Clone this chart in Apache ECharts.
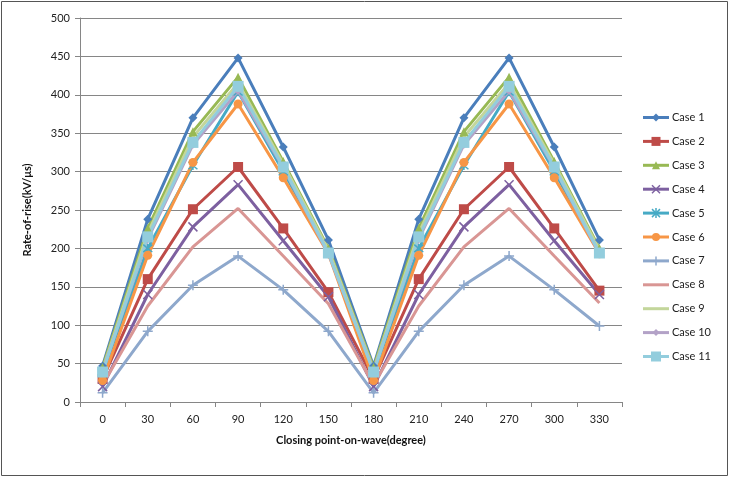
<!DOCTYPE html>
<html><head><meta charset="utf-8">
<script src="https://cdn.jsdelivr.net/npm/echarts@6/dist/echarts.min.js"></script>
<style>html,body{margin:0;padding:0;background:#fff}#c{width:730px;height:478px}</style>
</head><body><div id="c"></div>
<script>
const categories = ['0','30','60','90','120','150','180','210','240','270','300','330'];
const case1 = [47,238,370,448,332,211,47,238,370,448,332,211];
const case2 = [30,160,251,306,226,143,30,160,251,306,226,145];
const case3 = [45,226,352,423,313,200,45,226,352,423,313,200];
const case4 = [20,140,228,283,210,137,20,140,228,283,210,140];
const case5 = [38,200,308,404,300,195,38,200,308,404,300,195];
const case6 = [28,191,312,388,292,193,28,191,312,388,292,193];
const case7 = [12,92,152,190,146,92,12,92,152,190,146,99];
const case8 = [22,125,202,252,190,128,22,125,202,252,190,129];
const case9 = [42,220,345,415,310,198,42,220,345,415,310,198];
const case10 = [40,212,335,405,305,193,40,212,335,405,305,193];
const case11 = [39,215,338,411,306,194,39,215,338,411,306,194];
const names = ['Case 1','Case 2','Case 3','Case 4','Case 5','Case 6','Case 7','Case 8','Case 9','Case 10','Case 11'];
const values = [case1,case2,case3,case4,case5,case6,case7,case8,case9,case10,case11];

const colors = ['#4A7EBB','#BE4B48','#98B954','#7D60A0','#46AAC5','#F79646','#8EA8CC','#D99694','#C3D69B','#B3A2C7','#93CDDD'];
const X = 'path://M0,0L10,10M10,0L0,10';
const STAR = 'path://M0,0L10,10M10,0L0,10M5,-1L5,11';
const PLUS = 'path://M5,0L5,10M0,5L10,5';
const DASH = 'path://M0,5L10,5';
const symbols = ['diamond','rect','triangle',X,STAR,'circle',PLUS,DASH,'circle','diamond','rect'];
const kinds = ['diamond','rect','triangle','x','star','circle','plus','dash','none','diamond','rect'];
const sizes = [9,10,9,9,9,9,10,9,1,8,11];
const stroked = [false,false,false,true,true,false,true,true,false,false,false];

const font = 'Lato, sans-serif';

function legendMarker(kind, cx, cy, s, c){
  const h = s/2;
  const st = {stroke:c, lineWidth:1.5};
  switch(kind){
    case 'diamond': return [{type:'polygon',shape:{points:[[cx,cy-h],[cx+h,cy],[cx,cy+h],[cx-h,cy]]},style:{fill:c}}];
    case 'rect': return [{type:'rect',shape:{x:cx-h,y:cy-h,width:s,height:s},style:{fill:c}}];
    case 'triangle': return [{type:'polygon',shape:{points:[[cx,cy-h],[cx+h,cy+h],[cx-h,cy+h]]},style:{fill:c}}];
    case 'circle': return [{type:'circle',shape:{cx:cx,cy:cy,r:h},style:{fill:c}}];
    case 'x': return [{type:'line',shape:{x1:cx-h,y1:cy-h,x2:cx+h,y2:cy+h},style:st},{type:'line',shape:{x1:cx-h,y1:cy+h,x2:cx+h,y2:cy-h},style:st}];
    case 'star': return [{type:'line',shape:{x1:cx-h,y1:cy-h,x2:cx+h,y2:cy+h},style:st},{type:'line',shape:{x1:cx-h,y1:cy+h,x2:cx+h,y2:cy-h},style:st},{type:'line',shape:{x1:cx,y1:cy-h-1,x2:cx,y2:cy+h+1},style:st}];
    case 'plus': return [{type:'line',shape:{x1:cx,y1:cy-h,x2:cx,y2:cy+h},style:st}];
    default: return [];
  }
}
const legendItems = [];
names.forEach((n,i)=>{
  const y = 117.5 + i*23.9;
  legendItems.push({type:'line',shape:{x1:643,y1:y,x2:669,y2:y},style:{stroke:colors[i],lineWidth:3}});
  legendMarker(kinds[i],656,y,sizes[i]-1,colors[i]).forEach(m=>legendItems.push(m));
  legendItems.push({type:'text',x:672,y:y,style:{text:n,fontSize:11,fill:'#222',fontFamily:font,verticalAlign:'middle',align:'left'}});
});

const chart = echarts.init(document.getElementById('c'));
chart.setOption({
  animation:false,
  textStyle:{fontFamily:font},
  graphic:[{type:'rect',shape:{x:1.5,y:1.5,width:726,height:474},style:{fill:'none',stroke:'#555',lineWidth:1}}].concat(legendItems),
  grid:{left:80,right:108,top:18,bottom:76},
  xAxis:{type:'category',data:categories,boundaryGap:true,
    name:'Closing point-on-wave(degree)',nameLocation:'middle',nameGap:33,
    nameTextStyle:{fontWeight:'bold',fontSize:11,color:'#111'},
    axisLine:{lineStyle:{color:'#868686'}},
    axisTick:{show:true,length:5,interval:0,lineStyle:{color:'#868686'}},
    axisLabel:{fontSize:11,color:'#222',margin:12,interval:0}},
  yAxis:{type:'value',min:0,max:500,interval:50,
    name:'Rate-of-rise(kV/μs)',nameLocation:'middle',nameGap:47,nameRotate:90,
    nameTextStyle:{fontWeight:'bold',fontSize:11,color:'#111'},
    axisLine:{show:true,lineStyle:{color:'#868686'}},
    axisTick:{show:true,length:5,lineStyle:{color:'#868686'}},
    axisLabel:{fontSize:11,color:'#222',margin:10},
    splitLine:{lineStyle:{color:'#868686',width:1}}},
  series: names.map((n,i)=>({
    name:n,type:'line',data:values[i],
    symbol:symbols[i],symbolSize:sizes[i],showSymbol:i!==8,
    lineStyle:{color:colors[i],width:3},
    itemStyle: stroked[i] ? {color:'transparent',borderColor:colors[i],borderWidth:1.5} : {color:colors[i]}
  }))
});
</script></body></html>
